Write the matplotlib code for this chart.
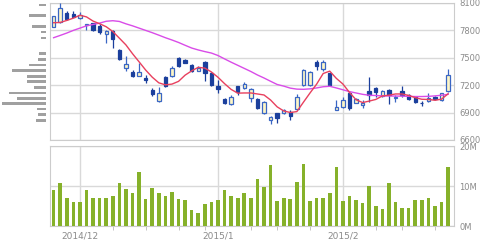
import matplotlib
matplotlib.use("Agg")
import matplotlib.pyplot as plt
import numpy as np

# daily candles, 2014/11/25 .. 2015/2/25
opens = [7840, 7890, 7992, 7985, 7938, 7858, 7880, 7843, 7757, 7790,
         7590, 7384, 7347, 7303, 7278, 7148, 7028, 7286, 7300, 7503,
         7474, 7420, 7358, 7452, 7336, 7191, 7047, 6996, 7191, 7166,
         7057, 7047, 6894, 6822, 6894, 6894, 6912, 6938, 7202, 7202,
         7456, 7373, 7329, 6930, 6959, 7119, 7010, 6988, 7141, 7166,
         7086, 7148, 7060, 7141, 7093, 7075, 7003, 7028, 7075, 7039,
         7141]
highs = [7960, 8100, 8010, 8010, 8006, 7873, 7885, 7873, 7800, 7800,
         7600, 7515, 7365, 7445, 7311, 7166, 7177, 7300, 7409, 7510,
         7492, 7430, 7409, 7463, 7340, 7257, 7060, 7090, 7191, 7238,
         7166, 7055, 7030, 6858, 6901, 6940, 6923, 7104, 7380, 7355,
         7474, 7481, 7335, 7039, 7075, 7141, 7060, 7039, 7286, 7177,
         7150, 7155, 7093, 7191, 7100, 7085, 7032, 7119, 7085, 7118,
         7373]
lows = [7835, 7885, 7909, 7945, 7930, 7800, 7795, 7757, 7662, 7612,
        7480, 7358, 7286, 7300, 7228, 7086, 7020, 7177, 7293, 7401,
        7438, 7347, 7351, 7246, 7195, 7112, 6990, 6985, 7093, 7155,
        7020, 6940, 6885, 6778, 6786, 6885, 6822, 6930, 7195, 7195,
        7365, 7358, 7195, 6923, 6949, 6930, 7000, 6949, 7020, 7075,
        7075, 6996, 7020, 7075, 7040, 7010, 6974, 7014, 7040, 7030,
        7130]
closes = [7955, 8047, 7920, 7952, 7970, 7862, 7800, 7782, 7790, 7710,
          7492, 7430, 7303, 7347, 7257, 7104, 7119, 7195, 7384, 7409,
          7445, 7354, 7390, 7336, 7202, 7155, 7003, 7075, 7130, 7213,
          7155, 6949, 7020, 6851, 6840, 6930, 6865, 7068, 7365, 7347,
          7409, 7449, 7202, 6966, 7039, 6949, 7047, 7000, 7093, 7130,
          7141, 7093, 7065, 7093, 7050, 7020, 7000, 7057, 7047, 7112,
          7315]
ma5 = [7884, 7887, 7909, 7934, 7966, 7948, 7902, 7873, 7840, 7788,
       7715, 7641, 7545, 7456, 7366, 7288, 7226, 7204, 7212, 7242,
       7310, 7357, 7396, 7387, 7345, 7287, 7217, 7154, 7113, 7115,
       7115, 7104, 7093, 7038, 6963, 6918, 6901, 6911, 7014, 7115,
       7211, 7328, 7354, 7275, 7213, 7121, 7041, 7010, 7026, 7044,
       7082, 7091, 7104, 7104, 7088, 7064, 7046, 7044, 7035, 7047,
       7106]
ma25 = [7720, 7745, 7771, 7800, 7825, 7850, 7865, 7880, 7900, 7906,
        7898, 7872, 7850, 7825, 7800, 7775, 7748, 7720, 7695, 7668,
        7637, 7607, 7586, 7568, 7552, 7525, 7488, 7452, 7418, 7384,
        7350, 7312, 7279, 7243, 7208, 7190, 7168, 7157, 7155, 7160,
        7170, 7183, 7188, 7170, 7150, 7130, 7115, 7100, 7090, 7087,
        7083, 7082, 7081, 7080, 7078, 7076, 7076, 7078, 7083, 7090,
        7100]
volume = [9.0, 10.7, 6.9, 5.9, 5.9, 9.0, 6.9, 6.9, 6.9, 7.6,
          10.7, 9.2, 8.2, 13.6, 6.75, 9.4, 8.3, 7.6, 8.5, 6.75,
          6.4, 3.9, 3.25, 5.5, 6.0, 6.4, 9.0, 7.6, 6.9, 8.2,
          7.1, 11.8, 9.7, 15.25, 6.3, 6.9, 6.7, 10.9, 15.5, 6.3,
          6.9, 6.9, 8.3, 14.8, 6.3, 7.6, 6.5, 5.7, 10.0, 5.0,
          4.2, 10.75, 5.9, 4.6, 4.6, 6.5, 6.4, 6.9, 5.0, 5.9,
          14.7]  # million shares

# price-by-volume profile on the left
prof_price = [8077, 7963, 7843, 7782, 7716, 7547, 7481, 7420, 7358, 7297,
              7238, 7177, 7115, 7053, 6996, 6938, 6876, 6814]
prof_vol = [6.7, 17.3, 14.3, 5, 5, 6.7, 8.3, 16.7, 34, 19,
            19, 12.3, 36.7, 29.3, 44, 9, 7.7, 10]

month_pos = [4, 25, 44]
month_labels = ["2014/12", "2015/1", "2015/2"]
week_pos = [9, 14, 19, 23, 30, 34, 39, 49, 53, 58]

x = np.arange(len(closes))
up_face = "#fdf6c6"
up_edge = "#3a66c4"
down_col = "#1b3f9c"
grid_col = "#d9d9d9"
txt_col = "#8a8a8a"

fig = plt.figure(figsize=(4.8, 2.4), dpi=100)
ax = fig.add_axes([50/480, 1-140/240, 404/480, 137/240])
axv = fig.add_axes([50/480, 1-226/240, 404/480, 80/240])
axp = fig.add_axes([0, 1-140/240, 46/480, 137/240])

# candles
for i in x:
    o, h, l, c = opens[i], highs[i], lows[i], closes[i]
    if c >= o:
        fc, ec = up_face, up_edge
    else:
        fc, ec = down_col, down_col
    ax.vlines(i, l, h, color=ec, linewidth=0.9, zorder=3)
    body = max(abs(c - o), 8)
    ax.bar(i, body, bottom=min(o, c), width=0.52, color=fc, edgecolor=ec,
           linewidth=0.9, zorder=4)

ax.plot(x, ma25, color="#d94ce8", linewidth=1.0, zorder=5)
ax.plot(x, ma5, color="#e8405e", linewidth=1.0, zorder=5)

ax.set_ylim(6600, 8100)
ax.set_yticks([6600, 6900, 7200, 7500, 7800, 8100])
ax.set_xlim(-0.55, 60.9)

axv.bar(x, volume, width=0.55, color="#86b12a", zorder=3)
axv.set_ylim(0, 20)
axv.set_yticks([0, 10, 20])
axv.set_yticklabels(["0M", "10M", "20M"])
axv.set_xlim(-0.55, 60.9)

for a in (ax, axv):
    a.yaxis.tick_right()
    a.tick_params(axis="y", length=0, pad=4, labelsize=6, labelcolor=txt_col)
    a.grid(True, color=grid_col, linewidth=1.0, zorder=0)
    for s in a.spines.values():
        s.set_color("#cccccc")
    a.set_xticks(month_pos)

ax.tick_params(axis="x", length=0, labelbottom=False)
axv.set_xticklabels(month_labels)
axv.set_xticks(week_pos, minor=True)
axv.tick_params(axis="x", which="major", length=0, pad=4, labelsize=6.5,
                labelcolor=txt_col)
axv.tick_params(axis="x", which="minor", length=3, color="#bbbbbb")

axp.barh(prof_price, prof_vol, height=30, color="#a0a0a0")
axp.set_ylim(6600, 8100)
axp.set_xlim(46, 0)
axp.axis("off")

fig.savefig("out.png", dpi=100)
